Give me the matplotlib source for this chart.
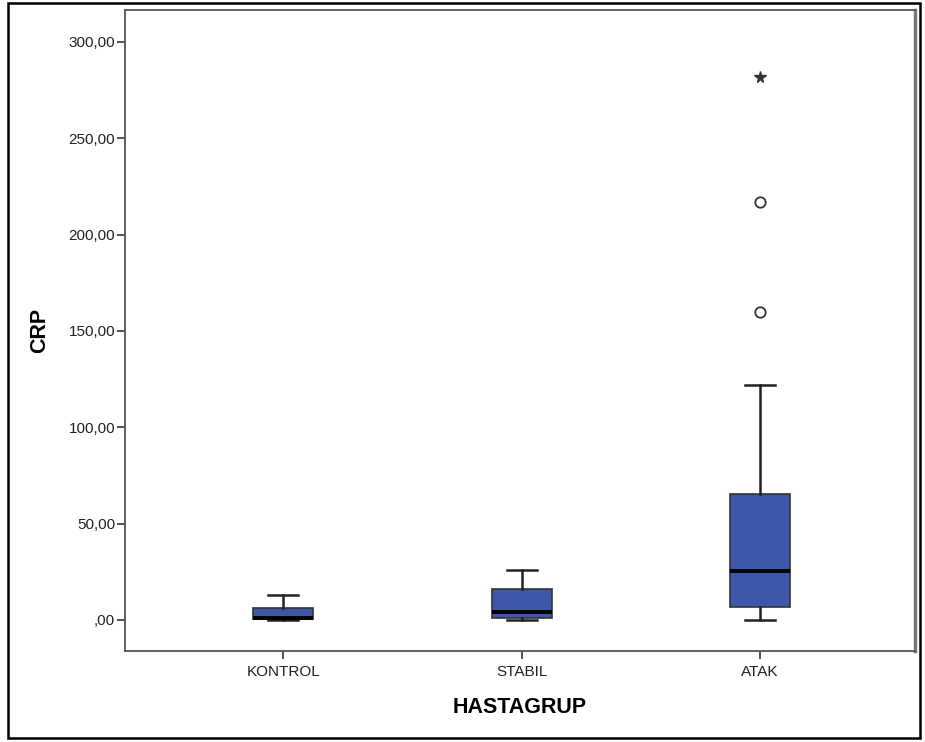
import matplotlib
matplotlib.use("Agg")
import matplotlib.pyplot as plt
from matplotlib.patches import Rectangle
from matplotlib.ticker import FuncFormatter

plt.rcParams["font.family"] = ["Liberation Sans", "DejaVu Sans"]

groups = ["KONTROL", "STABIL", "ATAK"]
whislo = [0.0, 0.0, 0.0]
q1 = [0.5, 1.0, 6.7]
med = [1.0, 4.0, 25.4]
q3 = [6.2, 16.0, 65.4]
whishi = [13.0, 26.0, 122.0]
outliers = [[], [], [160.0, 217.0]]
extremes = [[], [], [282.0]]

stats = []
for i, g in enumerate(groups):
    stats.append(dict(label=g, whislo=whislo[i], q1=q1[i], med=med[i],
                      q3=q3[i], whishi=whishi[i], fliers=[]))

fig = plt.figure(figsize=(9.25, 7.42), dpi=100)
ax = fig.add_axes([125/925, 91/742, 790/925, 641/742])

ax.bxp(stats, positions=range(3), widths=0.252, capwidths=0.126,
       patch_artist=True, showfliers=False,
       boxprops=dict(facecolor="#3d57a9", edgecolor="#333333", linewidth=1.2),
       medianprops=dict(color="black", linewidth=2.8),
       whiskerprops=dict(color="#222222", linewidth=1.8),
       capprops=dict(color="#222222", linewidth=1.8))

for i in range(3):
    if outliers[i]:
        ax.plot([i]*len(outliers[i]), outliers[i], "o", mfc="white", mec="#333333",
                ms=7.5, mew=1.3)
    if extremes[i]:
        ax.plot([i]*len(extremes[i]), extremes[i], "*", color="#333333", ms=8.5)

ax.set_xlim(-0.664, 2.65)
ax.set_ylim(-16.1, 316.6)
ax.set_yticks([0, 50, 100, 150, 200, 250, 300])
ax.yaxis.set_major_formatter(FuncFormatter(
    lambda v, p: ",00" if v == 0 else ("%.2f" % v).replace(".", ",")))
ax.set_xticks(range(3))
ax.set_xticklabels(groups)
ax.tick_params(axis="both", direction="out", length=6, width=1.2, color="#333333",
               labelsize=11, labelcolor="#222222")
ax.tick_params(axis="y", pad=1)
ax.tick_params(axis="x", pad=4)
for s in ax.spines.values():
    s.set_color("#555555")
    s.set_linewidth(1.3)
ax.spines["right"].set_color("#777777")
ax.spines["right"].set_linewidth(2.5)

ax.set_ylabel("CRP", fontsize=15.5, fontweight="bold", va="center")
ax.yaxis.set_label_coords(-0.1076, 0.5)
ax.set_xlabel("HASTAGRUP", fontsize=15.5, fontweight="bold", va="center")
ax.xaxis.set_label_coords(0.5, -0.0874)

fig.patches.append(Rectangle((8/925, 4/742), 912/925, 735/742, transform=fig.transFigure,
                             fill=False, edgecolor="black", linewidth=1.8))

fig.savefig("out.png", dpi=100)
